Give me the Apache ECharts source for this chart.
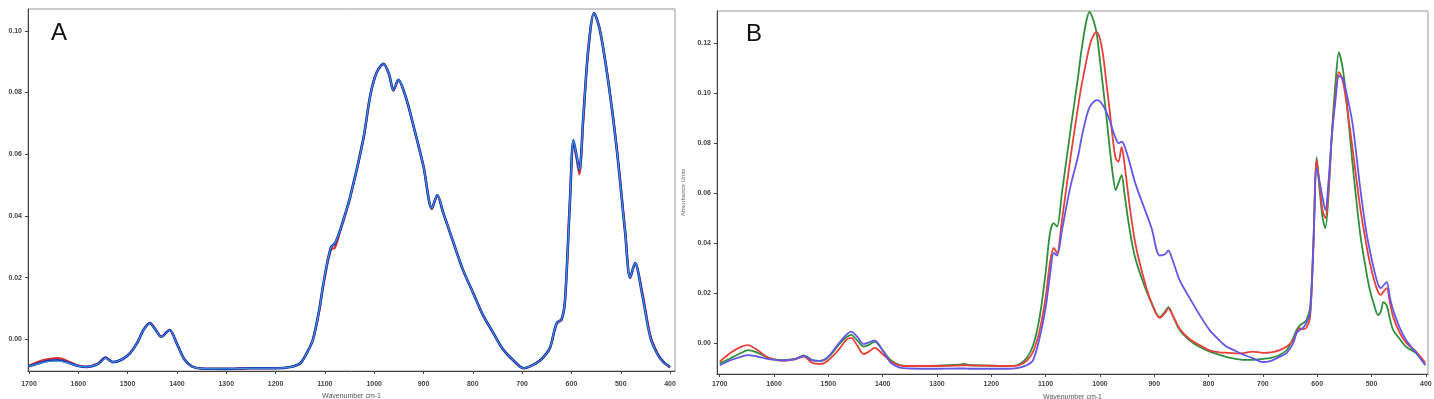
<!DOCTYPE html>
<html>
<head>
<meta charset="utf-8">
<script src="https://cdn.jsdelivr.net/npm/echarts@6/dist/echarts.min.js"></script>
<style>
html, body { margin: 0; padding: 0; background: #fff; }
#chartmain { width: 1434px; height: 399px; }
</style>
</head>
<body>
<div id="chartmain"></div>
<script>
// panel A - wavenumbers and the three overlapping spectra
var wnA = [1700,1680,1660,1641,1620,1600,1583,1560,1545,1530,1510,1495,1480,1468,1455,1443,1432,1415,1400,1385,1370,1350,1300,1250,1200,1170,1150,1135,1124,1112,1104,1095,1087,1080,1070,1049,1022,1008,995,981,970,961,951,935,920,900,883,872,860,839,820,799,780,758,740,718,697,680,663,650,643,630,620,613,603,596,590,584,576,566,554,542,525,508,491,481,471,457,440,425,413,400];
var aBlue = [-0.0088,-0.0078,-0.0070,-0.0068,-0.0076,-0.0087,-0.0090,-0.0080,-0.0060,-0.0074,-0.0064,-0.0045,-0.0010,0.0030,0.0052,0.0030,0.0008,0.0030,-0.0015,-0.0065,-0.0088,-0.0095,-0.0096,-0.0094,-0.0094,-0.0090,-0.0078,-0.0040,0.0000,0.0090,0.0170,0.0250,0.0300,0.0310,0.0350,0.0460,0.0650,0.0790,0.0865,0.0893,0.0860,0.0808,0.0841,0.0780,0.0690,0.0560,0.0425,0.0468,0.0410,0.0312,0.0225,0.0149,0.0080,0.0019,-0.0030,-0.0068,-0.0094,-0.0085,-0.0068,-0.0045,-0.0026,0.0052,0.0065,0.0127,0.0450,0.0646,0.0600,0.0549,0.0720,0.0938,0.1058,0.1000,0.0831,0.0614,0.0344,0.0201,0.0247,0.0149,0.0006,-0.0050,-0.0075,-0.0090];
var aRed = [-0.0086,-0.0072,-0.0064,-0.0061,-0.0072,-0.0085,-0.0089,-0.0079,-0.0059,-0.0074,-0.0064,-0.0045,-0.0010,0.0030,0.0053,0.0031,0.0008,0.0030,-0.0015,-0.0065,-0.0088,-0.0095,-0.0096,-0.0094,-0.0094,-0.0090,-0.0078,-0.0040,0.0000,0.0088,0.0168,0.0245,0.0292,0.0296,0.0345,0.0458,0.0648,0.0790,0.0865,0.0893,0.0860,0.0806,0.0840,0.0780,0.0690,0.0560,0.0422,0.0466,0.0410,0.0312,0.0225,0.0149,0.0080,0.0019,-0.0030,-0.0068,-0.0094,-0.0085,-0.0068,-0.0045,-0.0026,0.0050,0.0063,0.0125,0.0448,0.0640,0.0590,0.0535,0.0712,0.0935,0.1058,0.1002,0.0835,0.0620,0.0350,0.0198,0.0245,0.0158,0.0012,-0.0047,-0.0073,-0.0092];
var aCyan = [-0.0088,-0.0079,-0.0072,-0.0071,-0.0077,-0.0087,-0.0090,-0.0080,-0.0061,-0.0074,-0.0064,-0.0045,-0.0010,0.0030,0.0051,0.0030,0.0008,0.0029,-0.0015,-0.0065,-0.0088,-0.0095,-0.0096,-0.0094,-0.0094,-0.0090,-0.0078,-0.0040,0.0000,0.0090,0.0170,0.0250,0.0300,0.0310,0.0350,0.0460,0.0650,0.0790,0.0865,0.0893,0.0860,0.0808,0.0841,0.0780,0.0690,0.0560,0.0425,0.0468,0.0410,0.0312,0.0225,0.0149,0.0080,0.0019,-0.0030,-0.0068,-0.0094,-0.0085,-0.0068,-0.0045,-0.0026,0.0052,0.0065,0.0127,0.0450,0.0646,0.0600,0.0549,0.0720,0.0938,0.1058,0.1000,0.0831,0.0614,0.0344,0.0201,0.0247,0.0149,0.0006,-0.0050,-0.0075,-0.0090];

// panel B - wavenumbers and three spectra
var wnB = [1700,1680,1660,1648,1630,1610,1584,1560,1545,1530,1515,1500,1480,1468,1458,1447,1435,1425,1415,1400,1385,1370,1350,1300,1260,1250,1240,1200,1170,1150,1135,1123,1111,1100,1092,1085,1079,1070,1055,1040,1034,1025,1019,1012,1006,1000,994,988,982,976,971,966,960,955,945,935,920,905,890,880,874,866,853,835,816,798,780,767,750,736,719,700,685,670,656,644,638,632,626,620,613,607,601,595,590,585,579,573,566,560,553,546,535,521,510,503,495,488,483,478,472,466,460,448,436,418,401];
var bGreen = [-0.0083,-0.0062,-0.0040,-0.0029,-0.0040,-0.0060,-0.0069,-0.0063,-0.0050,-0.0068,-0.0072,-0.0058,-0.0005,0.0020,0.0032,0.0010,-0.0015,-0.0008,0.0005,-0.0030,-0.0070,-0.0088,-0.0093,-0.0092,-0.0088,-0.0085,-0.0089,-0.0092,-0.0093,-0.0088,-0.0061,-0.0010,0.0103,0.0280,0.0440,0.0480,0.0466,0.0600,0.0840,0.1070,0.1173,0.1290,0.1326,0.1293,0.1240,0.1133,0.1020,0.0905,0.0780,0.0670,0.0612,0.0640,0.0672,0.0600,0.0450,0.0340,0.0240,0.0160,0.0103,0.0125,0.0143,0.0110,0.0051,0.0010,-0.0017,-0.0035,-0.0048,-0.0057,-0.0064,-0.0068,-0.0068,-0.0064,-0.0060,-0.0050,-0.0029,0.0020,0.0051,0.0070,0.0079,0.0090,0.0143,0.0400,0.0744,0.0600,0.0500,0.0460,0.0600,0.0840,0.1050,0.1164,0.1100,0.0973,0.0720,0.0440,0.0290,0.0211,0.0150,0.0111,0.0125,0.0163,0.0150,0.0095,0.0051,0.0015,-0.0017,-0.0041,-0.0089];
var bRed = [-0.0076,-0.0040,-0.0015,-0.0009,-0.0030,-0.0060,-0.0072,-0.0065,-0.0055,-0.0080,-0.0085,-0.0070,-0.0025,0.0010,0.0020,-0.0010,-0.0045,-0.0035,-0.0020,-0.0045,-0.0075,-0.0090,-0.0093,-0.0093,-0.0091,-0.0090,-0.0091,-0.0092,-0.0093,-0.0090,-0.0072,-0.0035,0.0050,0.0180,0.0320,0.0380,0.0360,0.0490,0.0730,0.0950,0.1030,0.1130,0.1190,0.1232,0.1245,0.1220,0.1150,0.1040,0.0930,0.0812,0.0740,0.0725,0.0785,0.0720,0.0544,0.0400,0.0263,0.0160,0.0100,0.0120,0.0139,0.0110,0.0055,0.0015,-0.0010,-0.0030,-0.0038,-0.0040,-0.0042,-0.0041,-0.0035,-0.0040,-0.0038,-0.0030,-0.0015,0.0011,0.0040,0.0059,0.0055,0.0060,0.0103,0.0400,0.0732,0.0620,0.0530,0.0500,0.0620,0.0830,0.1000,0.1085,0.1050,0.0960,0.0780,0.0544,0.0400,0.0320,0.0250,0.0205,0.0192,0.0205,0.0219,0.0160,0.0103,0.0040,0.0000,-0.0035,-0.0080];
var bBlue = [-0.0090,-0.0070,-0.0055,-0.0049,-0.0055,-0.0065,-0.0070,-0.0065,-0.0052,-0.0070,-0.0072,-0.0055,0.0000,0.0030,0.0045,0.0025,-0.0005,0.0002,0.0010,-0.0030,-0.0080,-0.0098,-0.0103,-0.0104,-0.0103,-0.0103,-0.0104,-0.0104,-0.0104,-0.0100,-0.0090,-0.0069,0.0020,0.0140,0.0270,0.0360,0.0350,0.0450,0.0620,0.0750,0.0820,0.0905,0.0945,0.0965,0.0973,0.0968,0.0950,0.0925,0.0892,0.0850,0.0820,0.0800,0.0806,0.0790,0.0720,0.0640,0.0550,0.0460,0.0350,0.0355,0.0370,0.0330,0.0250,0.0180,0.0110,0.0051,0.0010,-0.0015,-0.0033,-0.0048,-0.0061,-0.0077,-0.0072,-0.0057,-0.0040,-0.0001,0.0040,0.0051,0.0060,0.0080,0.0120,0.0380,0.0700,0.0640,0.0580,0.0532,0.0650,0.0830,0.0980,0.1070,0.1060,0.1000,0.0880,0.0624,0.0450,0.0370,0.0290,0.0235,0.0219,0.0230,0.0243,0.0180,0.0130,0.0060,0.0010,-0.0040,-0.0089];

var xTicks = [1700,1600,1500,1400,1300,1200,1100,1000,900,800,700,600,500,400];
var yTicksA = [0,0.02,0.04,0.06,0.08,0.10];
var yTicksB = [0,0.02,0.04,0.06,0.08,0.10,0.12];

function pairs(xs, ys) {
    var out = [];
    for (var i = 0; i < xs.length; i++) {
        out.push([xs[i], ys[i]]);
    }
    return out;
}

var labelFont = 'Liberation Sans';

function makeX(idx, min, max, margin, nameGap) {
    return {
        type: 'value',
        gridIndex: idx,
        min: min,
        max: max,
        inverse: true,
        name: 'Wavenumber cm-1',
        nameLocation: 'middle',
        nameGap: nameGap,
        nameTextStyle: { fontSize: 7, fontFamily: labelFont, color: '#555' },
        axisLine: { show: true, onZero: false, lineStyle: { color: '#444', width: 1 } },
        axisTick: { show: true, customValues: xTicks, length: 3, lineStyle: { color: '#444' } },
        axisLabel: {
            customValues: xTicks,
            margin: margin,
            formatter: function (v) { return String(v); },
            fontSize: 7,
            fontFamily: labelFont,
            fontWeight: 'bold',
            color: '#444'
        },
        splitLine: { show: false }
    };
}
function makeY(idx, min, max, ticks, nameGap) {
    return {
        type: 'value',
        gridIndex: idx,
        min: min,
        max: max,
        name: 'Absorbance Units',
        nameLocation: 'middle',
        nameGap: nameGap,
        nameTextStyle: { fontSize: 6, fontFamily: labelFont, color: '#666' },
        axisLine: { show: true, onZero: false, lineStyle: { color: '#444', width: 1 } },
        axisTick: { show: true, customValues: ticks, length: 3, lineStyle: { color: '#444' } },
        axisLabel: {
            customValues: ticks,
            margin: 6,
            formatter: function (v) { return v.toFixed(2); },
            fontSize: 7,
            fontFamily: labelFont,
            fontWeight: 'bold',
            color: '#444'
        },
        splitLine: { show: false }
    };
}
function line(name, xi, data, color, width, z) {
    return {
        name: name,
        type: 'line',
        xAxisIndex: xi,
        yAxisIndex: xi,
        data: data,
        showSymbol: false,
        smooth: 0.3,
        z: z,
        lineStyle: { color: color, width: width }
    };
}

var option = {
    animation: false,
    backgroundColor: '#fff',
    grid: [
        { left: 28, top: 9, width: 647, height: 362, outerBoundsMode: 'none', containLabel: false, show: true, borderColor: '#999', borderWidth: 1 },
        { left: 717, top: 11, width: 711, height: 363, outerBoundsMode: 'none', containLabel: false, show: true, borderColor: '#999', borderWidth: 1 }
    ],
    xAxis: [makeX(0, 390, 1702, 10, 22), makeX(1, 396, 1705, 7, 20)],
    yAxis: [makeY(0, -0.0103, 0.1071, yTicksA, 30), makeY(1, -0.0125, 0.133, yTicksB, 31)],
    series: [
        line('A-red', 0, pairs(wnA, aRed), '#d8322e', 2.2, 2),
        line('A-blue', 0, pairs(wnA, aBlue), '#1f2fb8', 2.6, 3),
        line('A-cyan', 0, pairs(wnA, aCyan), '#3fa6d6', 1, 4),
        line('B-green', 1, pairs(wnB, bGreen), '#2f8f3c', 1.8, 2),
        line('B-red', 1, pairs(wnB, bRed), '#e8403a', 1.8, 3),
        line('B-blue', 1, pairs(wnB, bBlue), '#6357e6', 1.8, 4)
    ],
    graphic: [
        { type: 'text', left: 51, top: 21, style: { text: 'A', fontSize: 24, fontFamily: labelFont, fill: '#111' } },
        { type: 'text', left: 746, top: 22, style: { text: 'B', fontSize: 24, fontFamily: labelFont, fill: '#111' } }
    ]
};

var myChart = echarts.init(document.getElementById('chartmain'));
myChart.setOption(option);
</script>
</body>
</html>
